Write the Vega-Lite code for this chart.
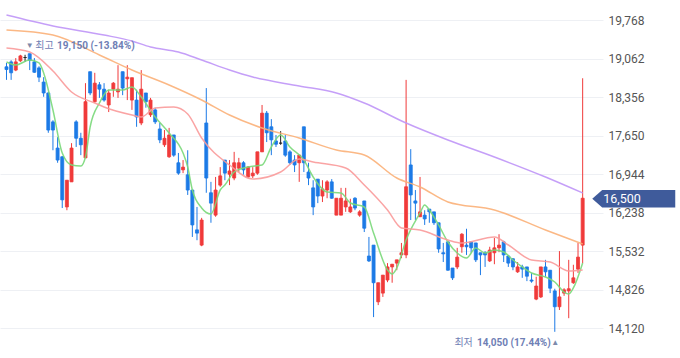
{
"$schema":"https://vega.github.io/schema/vega-lite/v6.json",
"width":603,"height":358,"autosize":"none",
"padding":{"left":0,"top":0,"right":77,"bottom":0},
"background":"white",
"config":{"view":{"stroke":null},"axisY":{"orient":"right","title":null,"grid":true,"gridColor":"#eef0f4","gridWidth":1,"domain":false,"ticks":false,"labelPadding":5,"labelColor":"#555555","labelFontSize":12,"labelFont":"Roboto"}},
"datasets":{
"candles":[
{"i":0,"o":18910,"h":18980,"l":18670,"c":18860},{"i":1,"o":19000,"h":19030,"l":18670,"c":18800},{"i":2,"o":18850,"h":19070,"l":18830,"c":19000},{"i":3,"o":19020,"h":19130,"l":19000,"c":19110},{"i":4,"o":19080,"h":19130,"l":19000,"c":19080},{"i":5,"o":19150,"h":19150,"l":18850,"c":19030},{"i":6,"o":19000,"h":19070,"l":18800,"c":18810},{"i":7,"o":18890,"h":18920,"l":18630,"c":18720},{"i":8,"o":18630,"h":18720,"l":18360,"c":18430},{"i":9,"o":18430,"h":18450,"l":17700,"c":17750},
{"i":10,"o":17900,"h":17930,"l":17380,"c":17750},{"i":11,"o":17420,"h":17620,"l":17150,"c":17200},{"i":12,"o":17260,"h":17270,"l":16320,"c":16470},{"i":13,"o":16340,"h":16830,"l":16280,"c":16830},{"i":14,"o":16800,"h":17510,"l":16800,"c":17420},{"i":15,"o":17900,"h":17930,"l":17440,"c":17600},{"i":16,"o":17600,"h":17700,"l":17290,"c":17480},{"i":17,"o":17240,"h":18610,"l":17240,"c":18270},{"i":18,"o":18820,"h":18820,"l":18390,"c":18430},{"i":19,"o":18270,"h":18800,"l":18250,"c":18610},
{"i":20,"o":18580,"h":18630,"l":18340,"c":18500},{"i":21,"o":18500,"h":18610,"l":18270,"c":18300},{"i":22,"o":18210,"h":18490,"l":18080,"c":18430},{"i":23,"o":18500,"h":18630,"l":18360,"c":18610},{"i":24,"o":18450,"h":18940,"l":18340,"c":18500},{"i":25,"o":18820,"h":18820,"l":18390,"c":18520},{"i":26,"o":18690,"h":18940,"l":18300,"c":18720},{"i":27,"o":18300,"h":18710,"l":18120,"c":18710},{"i":28,"o":18300,"h":18490,"l":17810,"c":17990},{"i":29,"o":17880,"h":18850,"l":17840,"c":18500},
{"i":30,"o":18430,"h":18430,"l":18160,"c":18270},{"i":31,"o":18030,"h":18340,"l":17990,"c":18300},{"i":32,"o":18120,"h":18160,"l":17860,"c":17900},{"i":33,"o":17770,"h":17880,"l":17510,"c":17570},{"i":34,"o":17480,"h":17750,"l":17440,"c":17600},{"i":35,"o":17260,"h":17790,"l":17240,"c":17660},{"i":36,"o":17660,"h":17660,"l":17260,"c":17290},{"i":37,"o":17150,"h":17330,"l":16930,"c":16960},{"i":38,"o":17020,"h":17200,"l":16960,"c":17070},{"i":39,"o":16930,"h":17380,"l":16560,"c":16650},
{"i":40,"o":16650,"h":16650,"l":15790,"c":16010},{"i":41,"o":15920,"h":16340,"l":15730,"c":15860},{"i":42,"o":15640,"h":16140,"l":15620,"c":16100},{"i":43,"o":17880,"h":18520,"l":16600,"c":16870},{"i":44,"o":16600,"h":16800,"l":16050,"c":16410},{"i":45,"o":16190,"h":16890,"l":16160,"c":16650},{"i":46,"o":16740,"h":17070,"l":16710,"c":16910},{"i":47,"o":17200,"h":17200,"l":16830,"c":16960},{"i":48,"o":16940,"h":17200,"l":16740,"c":17000},{"i":49,"o":16870,"h":17350,"l":16830,"c":17150},
{"i":50,"o":17050,"h":17240,"l":16980,"c":17150},{"i":51,"o":17150,"h":17180,"l":16930,"c":17020},{"i":52,"o":16890,"h":17090,"l":16870,"c":17070},{"i":53,"o":16910,"h":17070,"l":16870,"c":16960},{"i":54,"o":16960,"h":17350,"l":16930,"c":17350},{"i":55,"o":17350,"h":18210,"l":17350,"c":18060},{"i":56,"o":18060,"h":18100,"l":17530,"c":17700},{"i":57,"o":17810,"h":17950,"l":17290,"c":17570},{"i":58,"o":17550,"h":17660,"l":17440,"c":17490},{"i":59,"o":17510,"h":17730,"l":17480,"c":17510},
{"i":60,"o":17550,"h":17660,"l":17260,"c":17290},{"i":61,"o":17350,"h":17380,"l":17110,"c":17150},{"i":62,"o":17200,"h":17290,"l":16980,"c":17110},{"i":63,"o":17150,"h":17290,"l":16800,"c":17290},{"i":64,"o":17810,"h":17810,"l":16980,"c":17150},{"i":65,"o":16980,"h":17150,"l":16740,"c":16870},{"i":66,"o":16690,"h":16830,"l":16190,"c":16340},{"i":67,"o":16850,"h":16850,"l":16410,"c":16540},{"i":68,"o":16540,"h":16830,"l":16430,"c":16670},{"i":69,"o":16650,"h":16830,"l":16500,"c":16800},
{"i":70,"o":16800,"h":16850,"l":16490,"c":16500},{"i":71,"o":16190,"h":16500,"l":16190,"c":16500},{"i":72,"o":16190,"h":16690,"l":16190,"c":16500},{"i":73,"o":16340,"h":16690,"l":16250,"c":16450},{"i":74,"o":16250,"h":16490,"l":16230,"c":16340},{"i":75,"o":16500,"h":16520,"l":16280,"c":16320},{"i":76,"o":16190,"h":16280,"l":16160,"c":16250},{"i":77,"o":16450,"h":16450,"l":15880,"c":15950},{"i":78,"o":15440,"h":15790,"l":15330,"c":15350},{"i":79,"o":15640,"h":15640,"l":14320,"c":14950},
{"i":80,"o":14600,"h":14950,"l":14540,"c":14950},{"i":81,"o":14760,"h":15090,"l":14690,"c":15090},{"i":82,"o":15000,"h":15310,"l":14960,"c":15240},{"i":83,"o":15240,"h":15290,"l":14950,"c":15290},{"i":84,"o":15310,"h":15370,"l":15180,"c":15370},{"i":85,"o":15460,"h":15680,"l":15400,"c":15500},{"i":86,"o":15460,"h":18670,"l":15400,"c":16710},{"i":87,"o":17110,"h":17400,"l":16100,"c":16560},{"i":88,"o":16450,"h":16650,"l":16100,"c":16410},{"i":89,"o":16160,"h":16890,"l":16160,"c":16250},
{"i":90,"o":16190,"h":16280,"l":16010,"c":16120},{"i":91,"o":16300,"h":16300,"l":16050,"c":16250},{"i":92,"o":16250,"h":16250,"l":16010,"c":16050},{"i":93,"o":16050,"h":16050,"l":15500,"c":15570},{"i":94,"o":15500,"h":15680,"l":15330,"c":15480},{"i":95,"o":15700,"h":15700,"l":15170,"c":15180},{"i":96,"o":15220,"h":15220,"l":15000,"c":15040},{"i":97,"o":15240,"h":15590,"l":15200,"c":15420},{"i":98,"o":15610,"h":15860,"l":15500,"c":15840},{"i":99,"o":15640,"h":15940,"l":15460,"c":15610},
{"i":100,"o":15700,"h":15700,"l":15500,"c":15590},{"i":101,"o":15680,"h":15680,"l":15330,"c":15370},{"i":102,"o":15500,"h":15500,"l":15090,"c":15460},{"i":103,"o":15500,"h":15530,"l":15240,"c":15460},{"i":104,"o":15350,"h":15610,"l":15330,"c":15550},{"i":105,"o":15500,"h":15770,"l":15290,"c":15590},{"i":106,"o":15590,"h":15840,"l":15510,"c":15640},{"i":107,"o":15700,"h":15720,"l":15330,"c":15460},{"i":108,"o":15440,"h":15460,"l":15240,"c":15310},{"i":109,"o":15390,"h":15400,"l":15180,"c":15240},
{"i":110,"o":15150,"h":15330,"l":15130,"c":15240},{"i":111,"o":15240,"h":15280,"l":15040,"c":15200},{"i":112,"o":15240,"h":15240,"l":14980,"c":15070},{"i":113,"o":15000,"h":15130,"l":14950,"c":14980},{"i":114,"o":14650,"h":15060,"l":14630,"c":14890},{"i":115,"o":14690,"h":15240,"l":14670,"c":15240},{"i":116,"o":15240,"h":15370,"l":15060,"c":15150},{"i":117,"o":15180,"h":15180,"l":14760,"c":14850},{"i":118,"o":14800,"h":14840,"l":14050,"c":14510},{"i":119,"o":14510,"h":15530,"l":14450,"c":14690},
{"i":120,"o":14760,"h":14850,"l":14710,"c":14820},{"i":121,"o":14800,"h":15370,"l":14300,"c":14840},{"i":122,"o":14950,"h":15280,"l":14930,"c":15040},{"i":123,"o":15200,"h":15680,"l":15130,"c":15420},{"i":124,"o":15640,"h":18700,"l":15310,"c":16500}
],
"ma":[
{"ma":"ma5","i":0,"v":18998},{"ma":"ma5","i":2,"v":18943},{"ma":"ma5","i":5,"v":19035},{"ma":"ma5","i":7,"v":18980},{"ma":"ma5","i":8,"v":18796},{"ma":"ma5","i":10,"v":18118},{"ma":"ma5","i":12,"v":17329},{"ma":"ma5","i":14,"v":17109},{"ma":"ma5","i":16,"v":17091},{"ma":"ma5","i":17,"v":17256},{"ma":"ma5","i":18,"v":17806},{"ma":"ma5","i":20,"v":18246},{"ma":"ma5","i":22,"v":18485},{"ma":"ma5","i":25,"v":18485},{"ma":"ma5","i":27,"v":18540},{"ma":"ma5","i":29,"v":18356},{"ma":"ma5","i":32,"v":17990},{"ma":"ma5","i":35,"v":17696},{"ma":"ma5","i":38,"v":17329},{"ma":"ma5","i":39,"v":17073},{"ma":"ma5","i":40,"v":16651},{"ma":"ma5","i":42,"v":16321},{"ma":"ma5","i":44,"v":16211},{"ma":"ma5","i":46,"v":16651},{"ma":"ma5","i":47,"v":16743},{"ma":"ma5","i":49,"v":16981},{"ma":"ma5","i":52,"v":17073},{"ma":"ma5","i":55,"v":17109},{"ma":"ma5","i":57,"v":17439},{"ma":"ma5","i":59,"v":17659},{"ma":"ma5","i":61,"v":17439},{"ma":"ma5","i":64,"v":17201},{"ma":"ma5","i":66,"v":16889},{"ma":"ma5","i":69,"v":16614},{"ma":"ma5","i":72,"v":16596},{"ma":"ma5","i":74,"v":16412},{"ma":"ma5","i":77,"v":16339},{"ma":"ma5","i":79,"v":15862},{"ma":"ma5","i":82,"v":15184},{"ma":"ma5","i":83,"v":15111},{"ma":"ma5","i":84,"v":15221},{"ma":"ma5","i":86,"v":15734},{"ma":"ma5","i":89,"v":16229},{"ma":"ma5","i":90,"v":16376},{"ma":"ma5","i":91,"v":16284},{"ma":"ma5","i":93,"v":16009},{"ma":"ma5","i":95,"v":15697},{"ma":"ma5","i":97,"v":15496},{"ma":"ma5","i":99,"v":15404},{"ma":"ma5","i":101,"v":15587},{"ma":"ma5","i":103,"v":15496},{"ma":"ma5","i":105,"v":15551},{"ma":"ma5","i":107,"v":15514},{"ma":"ma5","i":109,"v":15367},{"ma":"ma5","i":111,"v":15239},{"ma":"ma5","i":113,"v":15129},{"ma":"ma5","i":116,"v":15056},{"ma":"ma5","i":118,"v":14964},{"ma":"ma5","i":120,"v":14780},{"ma":"ma5","i":121,"v":14744},{"ma":"ma5","i":122,"v":14854},{"ma":"ma5","i":124,"v":15312},
{"ma":"ma20","i":0,"v":19255},{"ma":"ma20","i":5,"v":19181},{"ma":"ma20","i":10,"v":18833},{"ma":"ma20","i":14,"v":18448},{"ma":"ma20","i":19,"v":18246},{"ma":"ma20","i":21,"v":18173},{"ma":"ma20","i":27,"v":18026},{"ma":"ma20","i":29,"v":17990},{"ma":"ma20","i":32,"v":18155},{"ma":"ma20","i":36,"v":18173},{"ma":"ma20","i":39,"v":18045},{"ma":"ma20","i":42,"v":17604},{"ma":"ma20","i":48,"v":17109},{"ma":"ma20","i":53,"v":16853},{"ma":"ma20","i":59,"v":16981},{"ma":"ma20","i":63,"v":17219},{"ma":"ma20","i":66,"v":17164},{"ma":"ma20","i":73,"v":17054},{"ma":"ma20","i":77,"v":16743},{"ma":"ma20","i":82,"v":16284},{"ma":"ma20","i":85,"v":15954},{"ma":"ma20","i":89,"v":15917},{"ma":"ma20","i":95,"v":15734},{"ma":"ma20","i":98,"v":15679},{"ma":"ma20","i":105,"v":15789},{"ma":"ma20","i":108,"v":15642},{"ma":"ma20","i":113,"v":15367},{"ma":"ma20","i":117,"v":15331},{"ma":"ma20","i":121,"v":15166},{"ma":"ma20","i":124,"v":15184},
{"ma":"ma60","i":0,"v":19585},{"ma":"ma60","i":10,"v":19493},{"ma":"ma60","i":20,"v":19126},{"ma":"ma60","i":27,"v":18851},{"ma":"ma60","i":35,"v":18576},{"ma":"ma60","i":42,"v":18301},{"ma":"ma60","i":48,"v":18026},{"ma":"ma60","i":55,"v":17788},{"ma":"ma60","i":63,"v":17604},{"ma":"ma60","i":71,"v":17384},{"ma":"ma60","i":77,"v":17293},{"ma":"ma60","i":84,"v":16871},{"ma":"ma60","i":89,"v":16706},{"ma":"ma60","i":95,"v":16431},{"ma":"ma60","i":105,"v":16284},{"ma":"ma60","i":116,"v":15917},{"ma":"ma60","i":124,"v":15661},
{"ma":"ma120","i":0,"v":19860},{"ma":"ma120","i":10,"v":19660},{"ma":"ma120","i":21,"v":19493},{"ma":"ma120","i":27,"v":19383},{"ma":"ma120","i":31,"v":19273},{"ma":"ma120","i":37,"v":19181},{"ma":"ma120","i":42,"v":19035},{"ma":"ma120","i":48,"v":18851},{"ma":"ma120","i":53,"v":18723},{"ma":"ma120","i":63,"v":18558},{"ma":"ma120","i":71,"v":18430},{"ma":"ma120","i":77,"v":18246},{"ma":"ma120","i":86,"v":17879},{"ma":"ma120","i":95,"v":17568},{"ma":"ma120","i":105,"v":17256},{"ma":"ma120","i":116,"v":16889},{"ma":"ma120","i":124,"v":16596}
]
},
"encoding":{"x":{"field":"i","type":"quantitative","scale":{"domain":[-0.32,127.3],"nice":false,"zero":false},"axis":null}},
"layer":[
{"data":{"name":"candles"},"mark":{"type":"rule","strokeWidth":1},
 "encoding":{
  "y":{"field":"l","type":"quantitative","scale":{"domain":[13570,20135],"nice":false,"zero":false},
   "axis":{"orient":"right","title":null,"values":[14120,14826,15532,16238,16944,17650,18356,19062,19768],"format":",d"}},
  "y2":{"field":"h"},
  "color":{"condition":[{"test":"datum.c>datum.o","value":"#f03a3a"},{"test":"datum.c<datum.o","value":"#1c7ae6"}],"value":"#222222"}}},
{"data":{"name":"candles"},"mark":{"type":"bar","size":3,"strokeWidth":0.8},
 "encoding":{
  "y":{"field":"o","type":"quantitative","axis":{"orient":"right","title":null,"values":[14120,14826,15532,16238,16944,17650,18356,19062,19768],"format":",d"}},
  "y2":{"field":"c"},
  "fill":{"condition":[{"test":"datum.c>datum.o","value":"#f03a3a"},{"test":"datum.c<datum.o","value":"#1c7ae6"}],"value":"#222222"},
  "stroke":{"condition":[{"test":"datum.c>datum.o","value":"#f03a3a"},{"test":"datum.c<datum.o","value":"#1c7ae6"}],"value":"#222222"}}},
{"data":{"name":"ma"},"mark":{"type":"line","interpolate":"monotone","strokeWidth":1.5,"opacity":0.9},
 "encoding":{
  "y":{"field":"v","type":"quantitative","axis":{"orient":"right","title":null,"values":[14120,14826,15532,16238,16944,17650,18356,19062,19768],"format":",d"}},
  "detail":{"field":"ma"},
  "color":{"field":"ma","type":"nominal","scale":{"domain":["ma5","ma20","ma60","ma120"],"range":["#79d879","#fa9a9a","#fbb078","#bf95f7"]},"legend":null}}},
{"data":{"values":[{"i":5,"p":19150}]},
 "encoding":{"y":{"field":"p","type":"quantitative","axis":{"orient":"right","title":null,"values":[14120,14826,15532,16238,16944,17650,18356,19062,19768],"format":",d"}}},
 "layer":[
  {"mark":{"type":"text","text":"▼","fontSize":8,"align":"center","baseline":"middle","dy":-8,"fill":"#7e8aab"}},
  {"mark":{"type":"text","text":"최고","font":"Noto Sans CJK KR","fontSize":10,"align":"left","baseline":"middle","dx":5.6,"dy":-8,"fill":"#6f80b5"}},
  {"mark":{"type":"text","text":"19,150 (-13.84%)","font":"Roboto","fontWeight":"bold","fontSize":10,"align":"left","baseline":"middle","dx":27.2,"dy":-8,"fill":"#6f80b5"}}
 ]},
{"data":{"values":[{"i":118,"p":14050}]},
 "encoding":{"y":{"field":"p","type":"quantitative","axis":{"orient":"right","title":null,"values":[14120,14826,15532,16238,16944,17650,18356,19062,19768],"format":",d"}}},
 "layer":[
  {"mark":{"type":"text","text":"▲","fontSize":8,"align":"center","baseline":"middle","dx":0.5,"dy":11,"fill":"#7e8aab"}},
  {"mark":{"type":"text","text":"14,050 (17.44%)","font":"Roboto","fontWeight":"bold","fontSize":10,"align":"right","baseline":"middle","dx":-4,"dy":11,"fill":"#6f80b5"}},
  {"mark":{"type":"text","text":"최저","font":"Noto Sans CJK KR","fontSize":10,"align":"right","baseline":"middle","dx":-82,"dy":11,"fill":"#6f80b5"}}
 ]},
{"data":{"values":[{"i":124,"p":16500,"t":"16,500"}]},
 "encoding":{"y":{"field":"p","type":"quantitative","axis":{"orient":"right","title":null,"values":[14120,14826,15532,16238,16944,17650,18356,19062,19768],"format":",d"}}},
 "layer":[
  {"mark":{"type":"point","shape":"M-1,0L-0.76,-0.21L1,-0.21L1,0.21L-0.76,0.21Z","size":6889,"filled":true,"fill":"#3f5b9b","opacity":1,"strokeWidth":0,"xOffset":51.1,"yOffset":0.5}},
  {"mark":{"type":"text","font":"Roboto","fontSize":12.5,"align":"left","baseline":"middle","dx":20.6,"dy":0.5,"fill":"#ffffff"},"encoding":{"text":{"field":"t"}}}
 ]}
]
}
